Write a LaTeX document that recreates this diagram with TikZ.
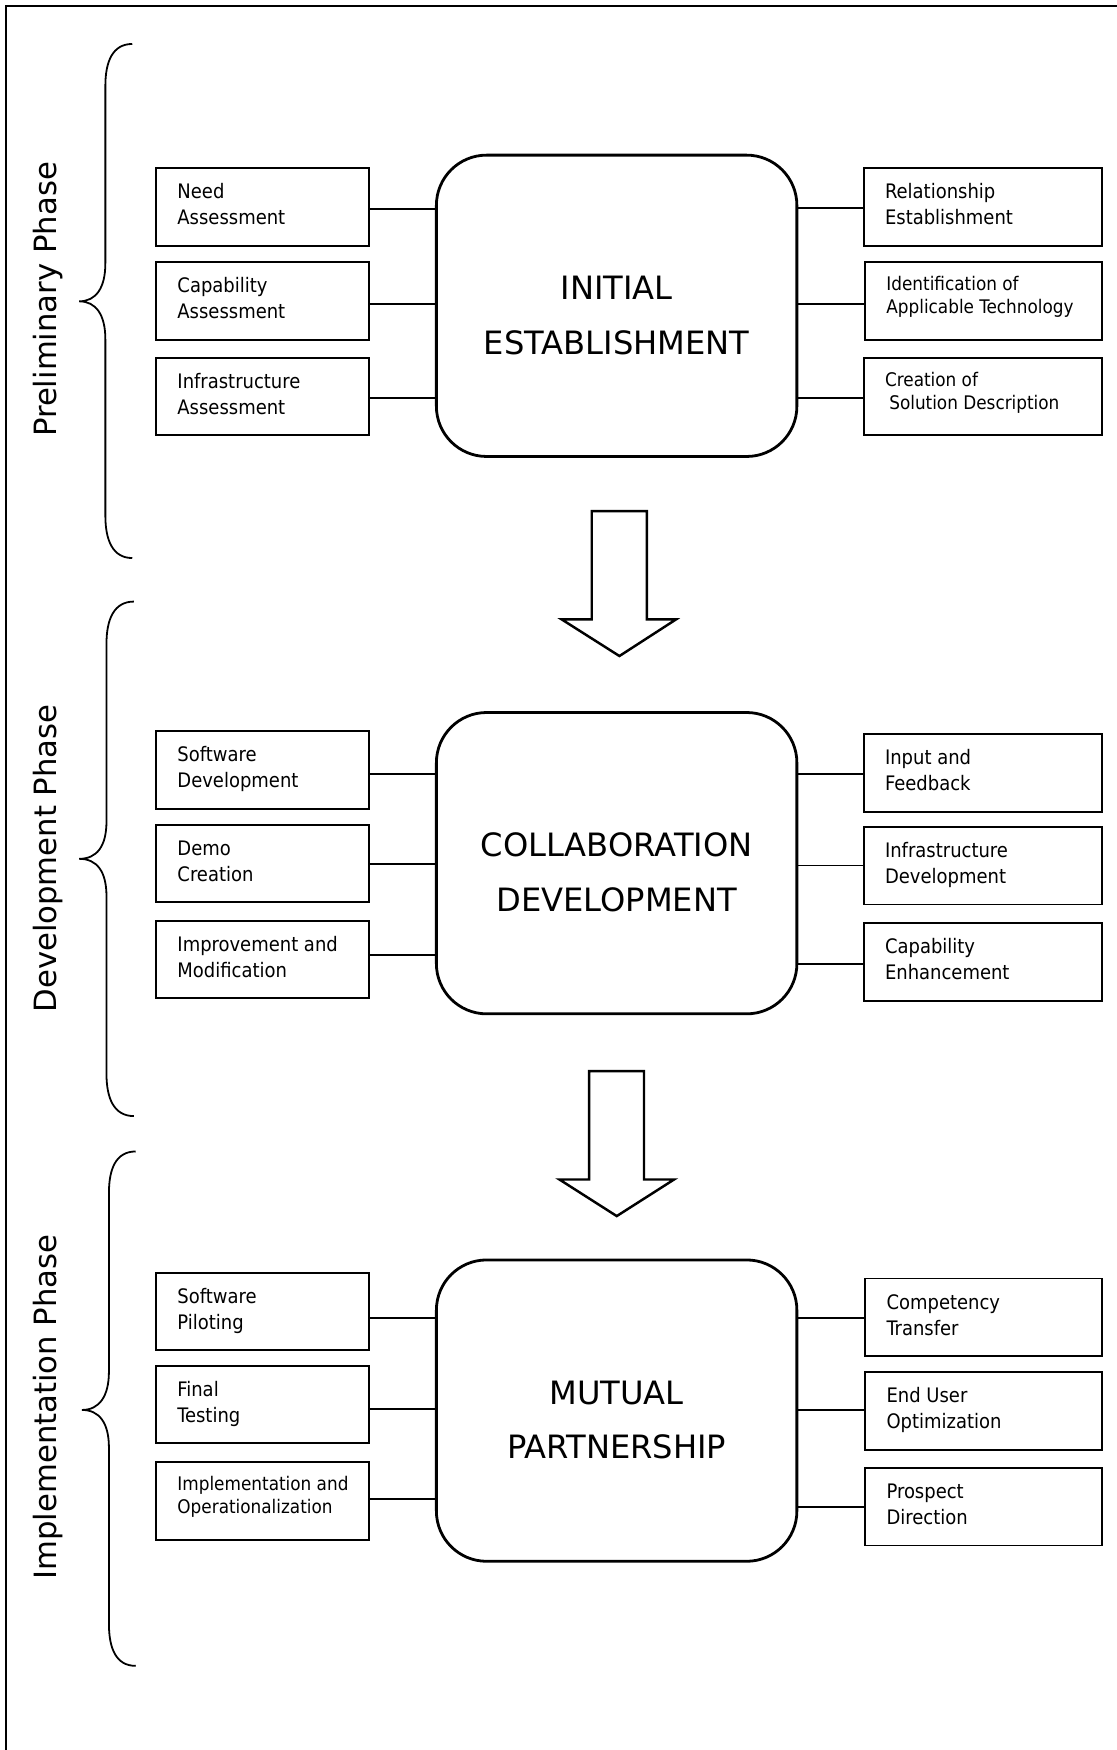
\documentclass[tikz,border=0pt]{standalone}
\usepackage{fontspec}
\setmainfont{DejaVu Sans}
\newfontfamily\condfont{DejaVu Sans Condensed}
% two left-aligned lines inside a fixed-width slot (first baseline = node baseline)
\newcommand\twolines[3]{\makebox[#1][l]{\begin{tabular}[t]{@{}l@{}}#2\\#3\end{tabular}}}
% two centred lines for the stage boxes
\newcommand\stagetext[2]{\begin{tabular}[t]{@{}c@{}}#1\\#2\end{tabular}}
\begin{document}
\begin{tikzpicture}[x=1pt,y=-1pt,
  frameline/.style={line width=2pt},
  itembox/.style={draw, rectangle, line width=1.7pt, minimum height=69.5pt,
    inner sep=0pt, outer sep=0pt,
    font=\condfont\fontsize{17.9}{23.3}\selectfont,
    text height=16.3pt, text depth=30.8pt},
  smalltext/.style={font=\condfont\fontsize{16.8}{21}\selectfont,
    text height=14.7pt, text depth=33.2pt},
  leftbox/.style={itembox, minimum width=191pt},
  rightbox/.style={itembox, minimum width=213pt},
  stagebox/.style={draw, rectangle, rounded corners=45pt, line width=2.5pt,
    minimum width=323pt, minimum height=270pt, inner sep=0pt, outer sep=0pt,
    font=\fontsize{28.8}{49}\selectfont,
    text height=34.3pt, text depth=45.9pt},
  phase/.style={rotate=90, anchor=base, inner sep=0pt,
    font=\fontsize{27.5}{33}\selectfont},
  conn/.style={line width=1.7pt},
  bracket/.style={line width=1.6pt},
  blockarrow/.style={line width=2.2pt, line join=miter, fill=white}
]
\useasboundingbox (0,0) rectangle (1000,1568);

% frame
\draw[frameline] (5.4,1575) -- (5.4,5.1) -- (1005,5.1);

% ---------- stage boxes ----------
\node[stagebox] (ie) at (552.5,274)    {\stagetext{INITIAL}{ESTABLISHMENT}};
\node[stagebox] (cd) at (552.5,773.4)  {\stagetext{COLLABORATION}{DEVELOPMENT}};
\node[stagebox] (mp) at (552.5,1263.9) {\stagetext{MUTUAL}{PARTNERSHIP}};

% ---------- preliminary phase ----------
\node[leftbox] (need)  at (235.5,185.5) {\twolines{153pt}{Need}{Assessment}};
\node[leftbox] (capa)  at (235.5,269.5) {\twolines{153pt}{Capability}{Assessment}};
\node[leftbox] (infa)  at (235.5,355.4) {\twolines{153pt}{Infrastructure}{Assessment}};
\node[rightbox] (rel)  at (880.5,185.5) {\twolines{175pt}{Relationship}{Establishment}};
\node[rightbox,smalltext,minimum width=212pt] (ident) at (881.2,269.5)
  {\twolines{174pt}{Identification of}{Applicable Technology}};
\node[rightbox,smalltext] (creat) at (880.5,355.4)
  {\twolines{175pt}{Creation of}{\hspace{3.8pt}Solution Description}};

% ---------- development phase ----------
\node[leftbox] (sdev)  at (235.5,689.8) {\twolines{153pt}{Software}{Development}};
\node[leftbox] (demo)  at (235.5,773.6) {\twolines{153pt}{Demo}{Creation}};
\node[leftbox] (impr)  at (235.5,859.7) {\twolines{153pt}{Improvement and}{Modification}};
\node[rightbox] (inp)  at (880.5,692.5) {\twolines{175pt}{Input and}{Feedback}};
\node[rightbox] (idev) at (880.5,775.7) {\twolines{175pt}{Infrastructure}{Development}};
\node[rightbox] (cenh) at (880.5,861.8) {\twolines{175pt}{Capability}{Enhancement}};

% ---------- implementation phase ----------
\node[leftbox] (spil)  at (235.5,1175)   {\twolines{153pt}{Software}{Piloting}};
\node[leftbox] (ftst)  at (235.5,1258.5) {\twolines{153pt}{Final}{Testing}};
\node[leftbox,smalltext] (impl) at (235.5,1344.7)
  {\twolines{153pt}{Implementation and}{Operationalization}};
\node[rightbox,minimum width=211.7pt] (comp) at (881.2,1180.3) {\twolines{173.7pt}{Competency}{Transfer}};
\node[rightbox,minimum width=211.7pt] (euo)  at (881.2,1264.2) {\twolines{173.7pt}{End User}{Optimization}};
\node[rightbox,minimum width=211.7pt] (pros) at (881.2,1350)   {\twolines{173.7pt}{Prospect}{Direction}};

% ---------- connectors (box / stage / vertical offset below box centre) ----------
\foreach \b/\s/\d in {need/ie/1.4, capa/ie/3.1, infa/ie/1.2,
                      sdev/cd/3.5, demo/cd/0.4, impr/cd/-4.1,
                      spil/mp/5.9, ftst/mp/4, impl/mp/-1.7}
  \draw[conn] ([yshift=-\d pt]\b.east) -- ([yshift=-\d pt]\b.east -| \s.west);
\foreach \b/\s/\d in {rel/ie/0.7, ident/ie/3.1, creat/ie/1.2,
                      inp/cd/0.8, idev/cd/-0.2, cenh/cd/1.6,
                      comp/mp/0.6, euo/mp/-1, pros/mp/0.6}
  \draw[conn] ([yshift=-\d pt]\b.west) -- ([yshift=-\d pt]\b.west -| \s.east);

% ---------- block arrows between stages ----------
\draw[blockarrow] (530.2,457.9) -- (579.5,457.9) -- (579.5,555) -- (605.7,555)
  -- (555,587.8) -- (503.3,555) -- (530.2,555) -- cycle;
\draw[blockarrow] (527.8,959.7) -- (577,959.7) -- (577,1056.8) -- (604,1056.8)
  -- (552.6,1089.6) -- (501.2,1056.8) -- (527.8,1056.8) -- cycle;

% ---------- phase braces ----------
\draw[bracket] (118.5,39.4) .. controls (101,39.4) and (94.4,55) .. (94.4,77)
  -- (94.4,236) .. controls (94.4,258) and (86,270) .. (71,270)
  .. controls (86,270) and (94.4,282) .. (94.4,304)
  -- (94.4,462) .. controls (94.4,484) and (101,500) .. (118.5,500);
\draw[bracket] (120,539) .. controls (102,539) and (95.4,555) .. (95.4,577)
  -- (95.4,736) .. controls (95.4,758) and (87,769.5) .. (71,769.5)
  .. controls (87,769.5) and (95.4,781) .. (95.4,803)
  -- (95.4,962) .. controls (95.4,984) and (102,1000) .. (120,1000);
\draw[bracket] (121.6,1031.7) .. controls (104,1031.7) and (97.6,1047) .. (97.6,1069)
  -- (97.6,1229) .. controls (97.6,1251) and (89,1263.3) .. (73.5,1263.3)
  .. controls (89,1263.3) and (97.6,1275) .. (97.6,1297)
  -- (97.6,1455) .. controls (97.6,1477) and (104,1492.6) .. (121.6,1492.6);

% ---------- phase labels ----------
\node[phase] (ph1) at (50.2,268.3)  {Preliminary Phase};
\node[phase] (ph2) at (50.2,769.1)  {Development Phase};
\node[phase] (ph3) at (50.2,1260.7) {Implementation Phase};
\end{tikzpicture}
\end{document}
